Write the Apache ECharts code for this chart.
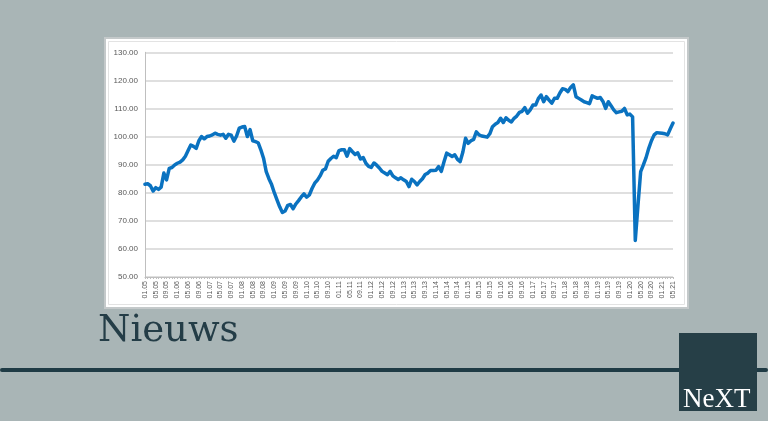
<!DOCTYPE html>
<html>
<head>
<meta charset="utf-8">
<script src="https://cdn.jsdelivr.net/npm/echarts@6/dist/echarts.min.js"></script>
<style>
html,body{margin:0;padding:0;background:#a9b5b6;}
#c{width:768px;height:421px;}
</style>
</head>
<body>
<div id="c"></div>
<script>
// Monthly index values, Jan 2005 .. May 2021
const values = [
83.0,83.2,82.5,80.6,81.8,81.2,82.0,87.0,84.6,88.7,89.0,89.9,
90.5,90.9,91.7,93.0,95.0,97.0,96.5,95.8,98.5,100.0,99.2,100.0,
100.2,100.6,101.2,100.8,100.5,100.8,99.4,100.8,100.5,98.4,100.2,103.0,
103.4,103.6,100.0,102.5,98.5,98.2,97.8,95.3,92.3,87.5,85.0,82.9,
80.0,77.5,75.0,73.0,73.5,75.5,75.8,74.3,76.0,77.2,78.5,79.6,
78.4,79.2,81.5,83.4,84.5,86.0,88.0,88.5,91.2,92.2,93.0,92.5,
95.0,95.3,95.3,93.0,95.7,94.6,93.6,94.2,92.0,92.5,90.5,89.4,
89.0,90.6,89.8,88.8,87.6,87.0,86.4,87.6,86.0,85.3,84.7,85.3,
84.6,84.0,82.2,84.8,84.0,82.8,84.0,85.0,86.5,87.0,87.9,87.9,
88.0,89.3,87.6,91.0,94.1,93.5,92.9,93.5,91.9,91.1,94.5,99.4,
97.6,98.5,99.0,101.7,100.6,100.2,100.0,99.8,101.0,103.5,104.4,105.0,
106.5,105.0,106.7,105.8,105.2,106.5,107.3,108.6,109.0,110.3,108.3,109.5,
111.2,111.2,113.5,114.8,112.4,114.2,113.0,111.9,113.6,113.6,115.5,117.0,
116.8,116.0,117.5,118.4,114.2,113.6,113.0,112.4,112.1,111.7,114.5,114.0,
113.6,113.9,112.5,110.0,112.4,111.0,109.5,108.5,108.8,109.0,110.0,107.7,
108.0,107.0,63.0,75.5,87.5,89.9,92.5,95.8,98.5,100.6,101.4,101.3,
101.2,101.0,100.6,102.8,104.8
];
const startYear = 2005, startMonth = 1;
const categories = [];
for (let k = 0; k < values.length; k++) {
  const m = (startMonth - 1 + k) % 12 + 1;
  const y = startYear + Math.floor((startMonth - 1 + k) / 12);
  categories.push(String(m).padStart(2,'0') + '.' + String(y % 100).padStart(2,'0'));
}
const yMin = 50, yMax = 130, yStep = 10;
const headline = 'Nieuws';
const logoText = 'NeXT';

const chart = echarts.init(document.getElementById('c'), null, {renderer:'canvas'});
chart.setOption({
  backgroundColor: '#a9b5b6',
  animation: false,
  graphic: [
    {type:'rect', z:-10, shape:{x:105,y:38,width:583,height:270}, style:{fill:'#ffffff', stroke:'#c4c9ca', lineWidth:2}},
    {type:'rect', z:-9, shape:{x:108.5,y:41.5,width:576,height:263}, style:{fill:'none', stroke:'#e3e3e3', lineWidth:1}},
    {type:'text', left:98, top:313, style:{text:headline, font:'37px "DejaVu Serif"', fill:'#243d47'}},
    {type:'rect', shape:{x:0,y:368,width:768,height:4,r:2}, style:{fill:'#1f3b45'}},
    {type:'rect', z:10, shape:{x:679,y:333,width:78,height:78}, style:{fill:'#263f47'}},
    {type:'text', z:11, left:683, top:386, style:{text:logoText, font:'27px "Liberation Serif"', fill:'#ffffff'}}
  ],
  grid: {left:145, right:95, top:52.3, bottom:144, containLabel:false},
  xAxis: {
    type:'category', data:categories, boundaryGap:false,
    axisLine:{lineStyle:{color:'#bfbfbf', width:1}},
    axisTick:{show:true, interval:0, length:2, lineStyle:{color:'#bfbfbf'}},
    axisLabel:{interval:3, rotate:90, fontSize:7, color:'#595959', margin:4, fontFamily:'Liberation Sans'},
    splitLine:{show:false}
  },
  yAxis: {
    type:'value', min:yMin, max:yMax, interval:yStep,
    axisLine:{show:true, lineStyle:{color:'#bfbfbf', width:1}},
    axisTick:{show:false},
    axisLabel:{fontSize:8, color:'#595959', margin:7, fontFamily:'Liberation Sans', formatter:(v)=>v.toFixed(2)},
    splitLine:{lineStyle:{color:'#d4d4d4', width:1.5}}
  },
  series: [{
    type:'line', data:values, showSymbol:false, symbol:'none',
    lineStyle:{color:'#0a72c0', width:3.5, join:'round', cap:'round'}
  }]
});
</script>
</body>
</html>
